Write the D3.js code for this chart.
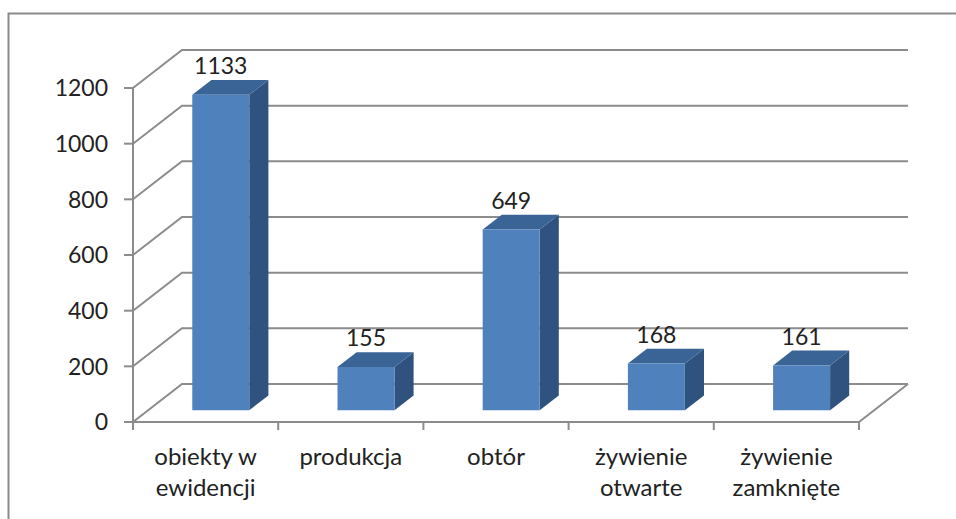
<!DOCTYPE html>
<html>
<head>
<meta charset="utf-8">
<script src="https://cdn.jsdelivr.net/npm/d3@7"></script>
<style>
  html, body { margin: 0; padding: 0; background: #fff; }
  svg { display: block; }
  text { font-family: Lato, "Open Sans", sans-serif; fill: #222; }
</style>
</head>
<body>
<svg id="chart" width="956" height="519"></svg>
<script>
// Data
const categories = [["obiekty w", "ewidencji"], ["produkcja"], ["obtór"], ["żywienie", "otwarte"], ["żywienie", "zamknięte"]];
const values = [1133, 155, 649, 168, 161];
const yTicks = [0, 200, 400, 600, 800, 1000, 1200];

(function () {
const svg = d3.select("#chart");
const W = 956, H = 519;

// Plot geometry (front plane) and depth vector for the 3D look
const plotLeft = 133, plotRight = 859, plotTop = 88, plotBottom = 422;
const depth = { dx: 49, dy: -38 };
const barFront = 0.31, barBack = 0.70;   // bar position within depth

const x = d3.scaleBand().domain(d3.range(values.length)).range([plotLeft, plotRight]).paddingInner(0).paddingOuter(0);
const y = d3.scaleLinear().domain([0, 1200]).range([plotBottom, plotTop]);

// project a front-plane point (px, value) to depth z
const P = (px, v, z) => [px + z * depth.dx, y(v) + z * depth.dy];
const poly = pts => pts.map(p => p.join(",")).join(" ");

const gridColor = "#8c8c8c";

// outer chart border
svg.append("rect")
  .attr("x", 8.5).attr("y", 13.5)
  .attr("width", W + 20).attr("height", H + 20)
  .attr("fill", "none").attr("stroke", "#8a8a8a").attr("stroke-width", 2);

const grid = svg.append("g").attr("fill", "none").attr("stroke", gridColor).attr("stroke-width", 2);

// side wall diagonals + back wall gridlines
yTicks.forEach(t => {
  grid.append("polyline").attr("points", poly([P(plotLeft, t, 0), P(plotLeft, t, 1), P(plotRight, t, 1)]));
});

// floor: front edge and right edge
grid.append("polyline").attr("points", poly([P(plotLeft, 0, 0), P(plotRight, 0, 0), P(plotRight, 0, 1)]));

// value axis line and ticks
grid.append("line").attr("x1", plotLeft).attr("x2", plotLeft).attr("y1", y(1200)).attr("y2", plotBottom + 8);
yTicks.forEach(t => {
  grid.append("line").attr("x1", plotLeft - 9).attr("x2", plotLeft).attr("y1", y(t)).attr("y2", y(t));
});
// category ticks
d3.range(values.length + 1).forEach(i => {
  const px = plotLeft + i * x.bandwidth();
  grid.append("line").attr("x1", px).attr("x2", px).attr("y1", plotBottom).attr("y2", plotBottom + 8);
});

// y tick labels
svg.append("g").selectAll("text").data(yTicks).join("text")
  .attr("x", 108).attr("y", d => y(d)).attr("dy", "0.36em")
  .attr("text-anchor", "end").attr("font-size", 23)
  .text(d => d);

// bars
const barW = 57;
const bars = svg.append("g");
values.forEach((v, i) => {
  const x0 = x(i) + (x.bandwidth() - barW) / 2, x1 = x0 + barW;
  const f00 = P(x0, 0, barFront), f10 = P(x1, 0, barFront);
  const f0v = P(x0, v, barFront), f1v = P(x1, v, barFront);
  const b0v = P(x0, v, barBack), b1v = P(x1, v, barBack), b10 = P(x1, 0, barBack);
  // right side
  bars.append("polygon").attr("points", poly([f10, f1v, b1v, b10])).attr("fill", "#2f527f");
  // top
  bars.append("polygon").attr("points", poly([f0v, f1v, b1v, b0v])).attr("fill", "#3b6496");
  // front
  bars.append("polygon").attr("points", poly([f00, f10, f1v, f0v])).attr("fill", "#4f81bd");
  // value label
  bars.append("text")
    .attr("x", (x0 + x1) / 2 + barFront * depth.dx)
    .attr("y", b0v[1] - 6)
    .attr("text-anchor", "middle").attr("font-size", 23)
    .text(v);
});

// category labels
const cat = svg.append("g");
categories.forEach((lines, i) => {
  const cx = x(i) + x.bandwidth() / 2;
  const t = cat.append("text").attr("text-anchor", "middle").attr("font-size", 24);
  lines.forEach((ln, j) => {
    t.append("tspan").attr("x", cx).attr("y", 465 + j * 31).text(ln);
  });
});
})();
</script>
</body>
</html>
